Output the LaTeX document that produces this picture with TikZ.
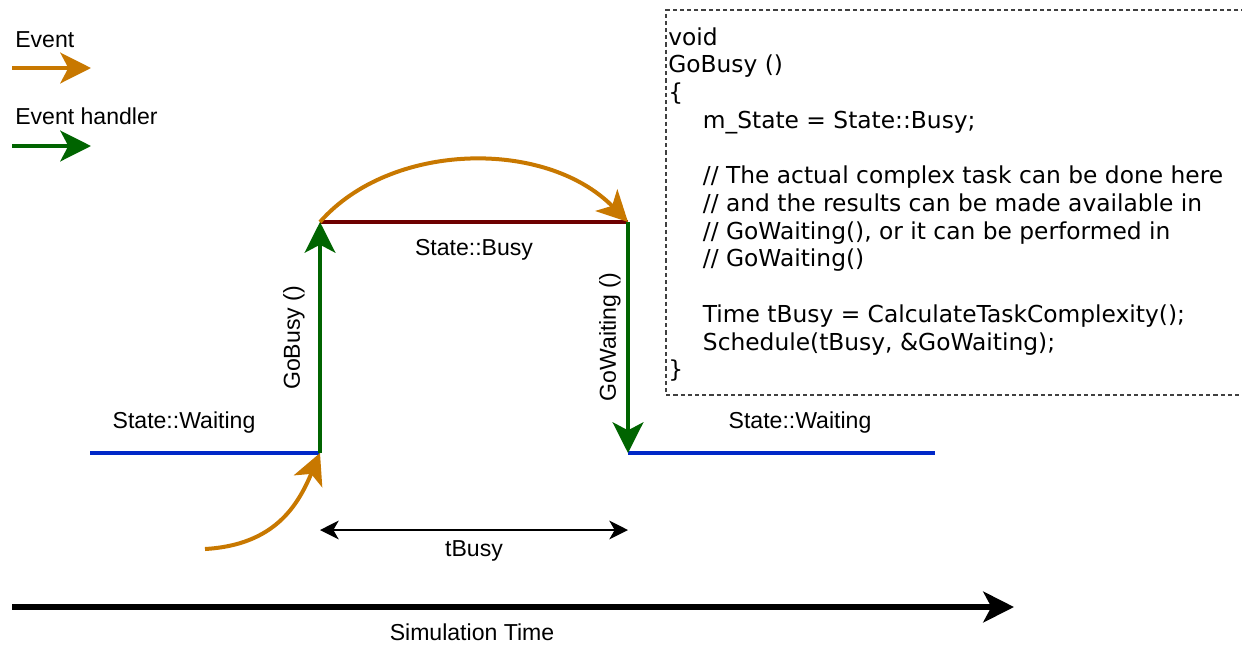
\documentclass[tikz,border=0pt]{standalone}
\usepackage{fontspec}
\setmainfont{Liberation Sans}
\newfontfamily\codefont{DejaVu Sans}
\usetikzlibrary{arrows.meta}
\definecolor{evorange}{RGB}{200,120,0}
\definecolor{evgreen}{RGB}{0,100,0}
\definecolor{stblue}{RGB}{0,40,200}
\definecolor{stred}{RGB}{110,0,0}
\tikzset{
  lbl/.style={font=\fontsize{17.3}{20}\selectfont, inner sep=0pt},
  bighead/.style={-{Stealth[length=23pt,width=23pt,inset=6pt]}},
  evarrow/.style={bighead, draw=evorange, line width=3pt},
  hdlarrow/.style={bighead, draw=evgreen, line width=3pt},
  waitline/.style={draw=stblue, line width=3pt},
  busyline/.style={draw=stred, line width=3pt},
}
\begin{document}
\begin{tikzpicture}[x=0.75pt,y=-0.75pt]
\useasboundingbox (0,0) rectangle (1242,644);
% legend
\node[lbl, anchor=west] (levent) at (15,40) {Event};
\coordinate (le1) at (12,68); \coordinate (le2) at (91,68);
\draw[evarrow] (le1) -- (le2);
\node[lbl, anchor=west] (lhandler) at (15,116) {Event handler};
\coordinate (lh1) at (12,146); \coordinate (lh2) at (91,146);
\draw[hdlarrow] (lh1) -- (lh2);
% states
\coordinate (wL) at (90,453);
\coordinate (up) at (320,453);
\coordinate (ut) at (320,222);
\coordinate (dt) at (628,222);
\coordinate (db) at (628,453);
\coordinate (wR) at (935,453);
\draw[waitline] (wL) -- (up);
\draw[waitline] (db) -- (wR);
\draw[busyline] (ut) -- (dt);
\draw[hdlarrow] (up) -- (ut);
\draw[hdlarrow] (dt) -- (db);
\node[lbl] (sw1) at (184,423) {State::Waiting};
\node[lbl] (sw2) at (800,423) {State::Waiting};
\node[lbl] (sb) at (474,250) {State::Busy};
\node[lbl, rotate=90] (gb) at (294,338) {GoBusy ()};
\node[lbl, rotate=90] (gw) at (610,337) {GoWaiting ()};
% events
\draw[evarrow] (ut) .. controls (390,142) and (545,138) .. (dt);
\coordinate (es) at (205,549);
\draw[evarrow] (es) .. controls (275,545) and (298,505) .. (up);
% tBusy
\coordinate (tb1) at (320,530); \coordinate (tb2) at (628,530);
\draw[{Stealth[length=14pt,width=14pt,inset=4pt]}-{Stealth[length=14pt,width=14pt,inset=4pt]}, line width=1.5pt] (tb1) -- (tb2);
\node[lbl] (tbl) at (474,551) {tBusy};
% simulation time
\coordinate (s1) at (12,607); \coordinate (s2) at (1014,607);
\draw[bighead, line width=4.2pt] (s1) -- (s2);
\node[lbl] (simt) at (472,632) {Simulation Time};
% code box
\draw[draw=black!75, dash pattern=on 3.2pt off 2.2pt, line width=0.9pt] (1260,10) -- (666,10) -- (666,395) -- (1260,395);
\node[anchor=north west, inner sep=0pt, align=left, font=\codefont\fontsize{17.5}{20.8}\selectfont] (code) at (668,27) {void\\
GoBusy ()\\
\{\\
\hspace*{26pt}m\_State = State::Busy;\\[20.8pt]
\hspace*{26pt}// The actual complex task can be done here\\
\hspace*{26pt}// and the results can be made available in\\
\hspace*{26pt}// GoWaiting(), or it can be performed in\\
\hspace*{26pt}// GoWaiting()\\[20.8pt]
\hspace*{26pt}Time tBusy = CalculateTaskComplexity();\\
\hspace*{26pt}Schedule(tBusy, \&GoWaiting);\\
\}};
\end{tikzpicture}
\end{document}
